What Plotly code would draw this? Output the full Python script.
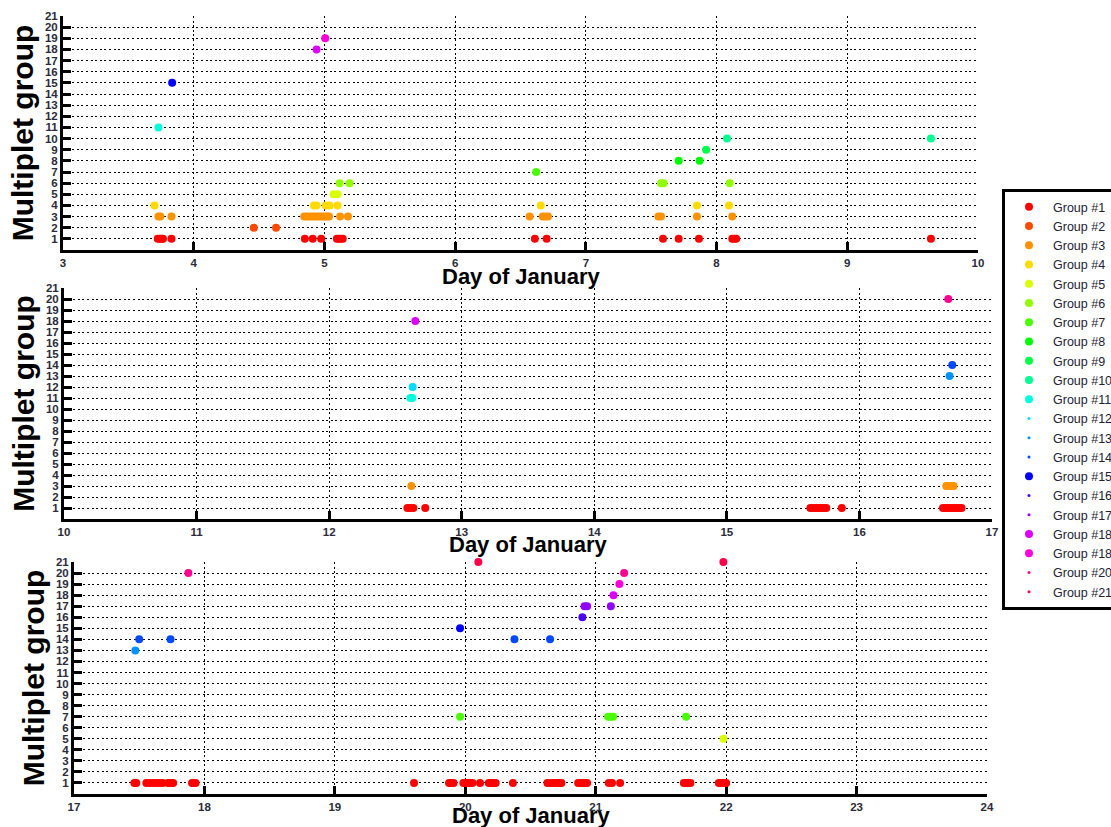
import plotly.graph_objects as go

# ---------------- data ----------------
groups = list(range(1, 22))
legend_labels = ["Group #1", "Group #2", "Group #3", "Group #4", "Group #5", "Group #6",
                 "Group #7", "Group #8", "Group #9", "Group #10", "Group #11", "Group #12",
                 "Group #13", "Group #14", "Group #15", "Group #16", "Group #17", "Group #18",
                 "Group #18", "Group #20", "Group #21"]

# days (of January) on which each multiplet group fired, per panel
days_panel1 = {
    1: [3.725, 3.74, 3.755, 3.765, 3.83, 4.85, 4.91, 4.975, 5.095, 5.11, 5.125, 5.14,
        6.61, 6.70, 7.59, 7.71, 7.865, 8.12, 8.135, 8.15, 9.64],
    2: [4.46, 4.63],
    3: [3.73, 3.745, 3.83, 4.845, 4.865, 4.885, 4.905, 4.925, 4.945, 4.965, 4.985, 5.005,
        5.02, 5.035, 5.12, 5.18, 6.57, 6.67, 6.69, 6.71, 7.555, 7.575, 7.85, 8.12],
    4: [3.70, 4.92, 4.94, 5.01, 5.04, 5.10, 6.655, 7.85, 8.095],
    5: [5.07, 5.10],
    6: [5.116, 5.192, 7.575, 7.595, 8.10],
    7: [6.62],
    8: [7.71, 7.87],
    9: [7.92],
    10: [8.08, 9.64],
    11: [3.73],
    15: [3.835],
    18: [4.94],
    19: [5.006],
}
days_panel2 = {
    1: [12.59, 12.61, 12.635, 12.725, 15.63, 15.65, 15.67, 15.69, 15.71, 15.73, 15.75,
        15.867, 16.63, 16.65, 16.67, 16.69, 16.71, 16.73, 16.75, 16.77],
    3: [12.62, 16.655, 16.675, 16.695, 16.71],
    11: [12.613, 12.627],
    12: [12.63],
    13: [16.68],
    14: [16.70],
    18: [12.65],
    20: [16.67],
}
days_panel3 = {
    1: [17.463, 17.478, 17.555, 17.58, 17.605, 17.63, 17.655, 17.68, 17.72, 17.745, 17.76,
        17.905, 17.918, 17.932, 19.607, 19.875, 19.89, 19.91, 19.985, 20.005, 20.025,
        20.04, 20.055, 20.113, 20.18, 20.20, 20.215, 20.233, 20.365, 20.63, 20.655,
        20.68, 20.70, 20.72, 20.737, 20.865, 20.885, 20.905, 20.92, 20.934, 21.10,
        21.125, 21.187, 21.676, 21.69, 21.705, 21.726, 21.944, 21.96, 21.98, 22.0],
    5: [21.98],
    7: [19.96, 21.095, 21.115, 21.133, 21.693],
    13: [17.47],
    14: [17.50, 17.74, 20.377, 20.65],
    15: [19.96],
    16: [20.898],
    17: [20.914, 20.934, 21.116],
    18: [21.136],
    19: [21.182],
    20: [17.877, 21.218],
    21: [20.10, 21.979],
}

x_ranges = [[3, 10], [10, 17], [17, 24]]
y_ticks = list(range(1, 22))
x_title = "Day of January"
y_title = "Multiplet group"

# ---------------- style ----------------
colors = ["#ff0000", "#ff4900", "#ff9200", "#ffdb00", "#dbff00", "#92ff00", "#49ff00",
          "#00ff00", "#00ff49", "#00ff92", "#00ffdb", "#00dbff", "#0092ff", "#0049ff",
          "#0000ff", "#4900ff", "#9200ff", "#db00ff", "#ff00db", "#ff0092", "#ff0049"]

W, H = 1111, 827
# pixel boxes of the three plot areas: (left, right, top, bottom)
boxes = [(63, 978, 16, 250), (64, 992, 288, 519), (74, 987, 562, 794)]
# pixel top of each "Day of January" title box
x_title_tops = [262, 530, 801]

fig = go.Figure()
panels = [days_panel1, days_panel2, days_panel3]
for pi, pdata in enumerate(panels):
    xa = "x" if pi == 0 else "x%d" % (pi + 1)
    ya = "y" if pi == 0 else "y%d" % (pi + 1)
    for g in groups:
        xs = pdata.get(g, [])
        size = 8
        if pi == 0:
            if not xs:
                xs = [None]
                size = 3
            show = True
        else:
            if not xs:
                continue
            show = False
        ys = [g if v is not None else None for v in xs]
        fig.add_trace(go.Scatter(
            x=xs, y=ys, mode="markers", xaxis=xa, yaxis=ya, cliponaxis=False,
            name=legend_labels[g - 1], legendgroup=str(g), showlegend=show,
            marker=dict(color=colors[g - 1], size=size, line=dict(width=0)),
            hoverinfo="x+y+name",
        ))

tick_font = dict(family="Liberation Sans", size=11.5, color="#2b2b3a", weight="bold")
axis_common = dict(showline=True, linecolor="black", linewidth=3, ticks="inside",
                   ticklen=8, tickwidth=3, tickcolor="black", showgrid=True,
                   gridcolor="black", gridwidth=1.3, griddash="2px,2.6px",
                   zeroline=False, tickfont=tick_font, mirror=False, layer="below traces")

layout_axes = {}
annotations = []
for pi, (l, r, t, b) in enumerate(boxes):
    sx = "xaxis" if pi == 0 else "xaxis%d" % (pi + 1)
    sy = "yaxis" if pi == 0 else "yaxis%d" % (pi + 1)
    ax_anchor = "y" if pi == 0 else "y%d" % (pi + 1)
    ay_anchor = "x" if pi == 0 else "x%d" % (pi + 1)
    layout_axes[sx] = dict(
        axis_common, domain=[l / W, r / W], anchor=ax_anchor, range=x_ranges[pi],
        tickmode="linear", tick0=x_ranges[pi][0], dtick=1,
    )
    layout_axes[sy] = dict(
        axis_common, domain=[1 - b / H, 1 - t / H], anchor=ay_anchor, range=[0, 21],
        tickmode="array", tickvals=y_ticks, ticktext=[str(v) for v in y_ticks],
        title=dict(text=y_title, standoff=3,
                   font=dict(family="Liberation Sans", size=30, color="black", weight="bold")),
    )
    annotations.append(dict(
        text=x_title, xref="paper", yref="paper", x=(l + r) / 2 / W,
        y=1 - x_title_tops[pi] / H, xanchor="center", yanchor="top", showarrow=False,
        font=dict(family="Liberation Sans", size=22, color="black", weight="bold"),
    ))

fig.update_layout(
    width=W, height=H, template="none",
    paper_bgcolor="white", plot_bgcolor="white",
    margin=dict(l=0, r=0, t=0, b=0, autoexpand=False),
    showlegend=True,
    annotations=annotations,
    legend=dict(x=1002 / W, y=1 - 189 / H, xanchor="left", yanchor="top",
                bordercolor="black", borderwidth=3, bgcolor="white",
                font=dict(family="Liberation Sans", size=12.5, color="#222233"),
                tracegroupgap=0, itemsizing="trace", itemwidth=38),
    **layout_axes,
)

fig.write_html("out.html", config={"displayModeBar": False},
               post_script="document.body.style.margin='0';document.body.style.overflow='hidden';")
